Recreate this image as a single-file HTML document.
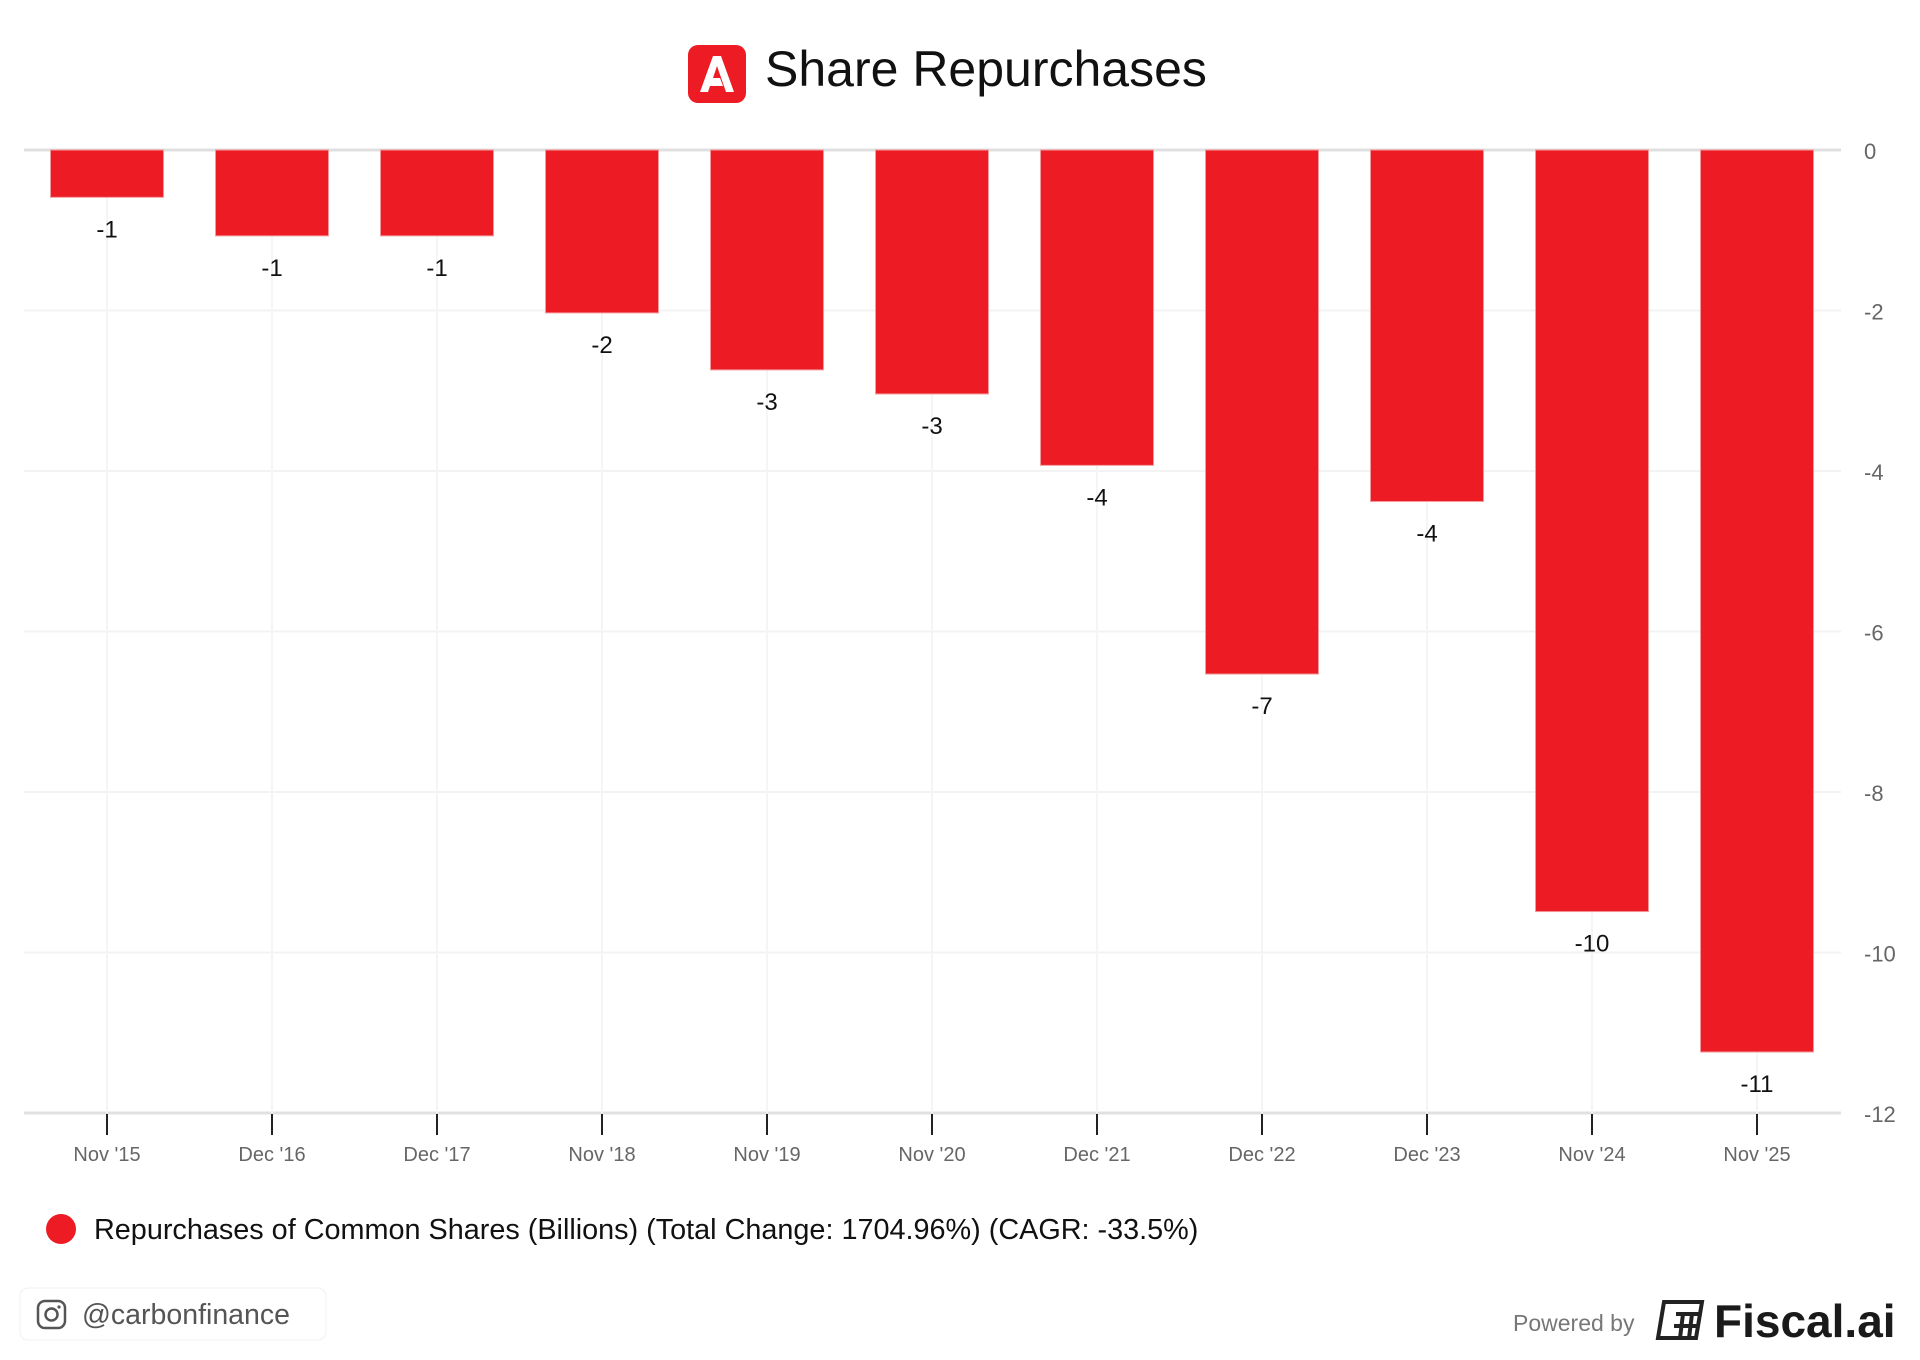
<!DOCTYPE html>
<html><head><meta charset="utf-8"><style>
body{margin:0;background:#fff;font-family:"Liberation Sans",sans-serif;}
#root{position:relative;width:1920px;height:1360px;overflow:hidden;background:#fff;}
</style></head><body>
<div id="root">
<svg id="chart" width="1920" height="1360" style="position:absolute;left:0;top:0">
  <g>
    <rect x="688" y="45" width="58" height="58" rx="10" fill="#ed1c24"/>
    <path d="M700 92 L713 56 L721 56 L734 92 L726 92 L717 66 L713 78 L720 78 L723 86 L710 86 L708 92 Z" fill="#fff"/>
    <text x="765" y="86" font-size="50" fill="#111">Share Repurchases</text>
  </g>
  <g id="grid"></g>
  <g id="bars"></g>
  <g id="axes"></g>
  <g>
    <circle cx="61" cy="1229" r="15" fill="#ed1c24"/>
    <text x="94" y="1239" font-size="28.8" fill="#111">Repurchases of Common Shares (Billions) (Total Change: 1704.96%) (CAGR: -33.5%)</text>
  </g>
  <g>
    <rect x="20" y="1288" width="306" height="52" rx="8" fill="#fff" stroke="#f0f0f0"/>
    <rect x="38" y="1301" width="27" height="27" rx="7" fill="none" stroke="#555" stroke-width="2.5"/>
    <circle cx="51.5" cy="1314.5" r="6" fill="none" stroke="#555" stroke-width="2.5"/>
    <circle cx="59" cy="1307" r="1.6" fill="#555"/>
    <text x="82" y="1324" font-size="28.5" fill="#555">@carbonfinance</text>
  </g>
  <g>
    <text x="1513" y="1331" font-size="23" fill="#777">Powered by</text>
    <g fill="none" stroke="#222" stroke-width="4">
      <path d="M1664 1302 L1702 1302 L1696 1338 L1658 1338 Z"/>
      <path d="M1676 1314 L1699 1314 M1674 1326 L1697 1326 M1683 1314 L1680 1338 M1692 1314 L1689 1338"/>
    </g>
    <text x="1714" y="1337" font-size="46" fill="#1a1a1a" font-weight="bold">Fiscal.ai</text>
  </g>
</svg>
</div>
<script>
const categories = ["Nov '15","Dec '16","Dec '17","Nov '18","Nov '19","Nov '20","Dec '21","Dec '22","Dec '23","Nov '24","Nov '25"];
const values = [-0.59,-1.07,-1.07,-2.03,-2.74,-3.04,-3.93,-6.53,-4.38,-9.49,-11.24];
const valueLabels = ["-1","-1","-1","-2","-3","-3","-4","-7","-4","-10","-11"];
const yTicks = [0,-2,-4,-6,-8,-10,-12];

const NS = "http://www.w3.org/2000/svg";
const plotL = 24, plotR = 1841, y0px = 150, y12px = 1113;
function yScale(v){ return y0px + (0 - v) * (y12px - y0px) / 12; }
function xScale(i){ return 107 + i * 165; }
const barW = 113;
function mk(tag, attrs, parent){ const e=document.createElementNS(NS,tag); for(const k in attrs) e.setAttribute(k,attrs[k]); parent.appendChild(e); return e; }
const grid=document.getElementById('grid'), bars=document.getElementById('bars'), axes=document.getElementById('axes');

yTicks.forEach(t=>{
  const y=yScale(t);
  const l=mk('line',{x1:plotL,x2:plotR,y1:y,y2:y,stroke:(t===0||t===-12)?'#e0e0e0':'#f3f3f3','stroke-width':(t===0||t===-12)?3:2},grid);
  
  
  const tx=mk('text',{x:1864,y:y+9,'font-size':22,fill:'#666'},axes);
  tx.textContent=String(t);
  
  
});
categories.forEach((c,i)=>{
  const x=xScale(i);
  const g=mk('line',{x1:x,x2:x,y1:y0px,y2:y12px,stroke:'#f5f5f5','stroke-width':2},grid);
  
  
  const v=values[i], yb=yScale(v);
  const r=mk('rect',{x:x-barW/2,y:y0px,width:barW,height:yb-y0px,fill:'#ed1c24',stroke:'#f29a9d','stroke-width':1},bars);
  
  
  const vl=mk('text',{x:x,y:yb+40,'font-size':24,fill:'#111','text-anchor':'middle'},bars);
  vl.textContent=valueLabels[i];
  
  
  const tk=mk('line',{x1:x,x2:x,y1:y12px+1,y2:y12px+22,stroke:'#222','stroke-width':2},axes);
  
  
  const xl=mk('text',{x:x,y:1161,'font-size':20,fill:'#666','text-anchor':'middle'},axes);
  xl.textContent=c;
  
  
});
</script>
</body></html>
